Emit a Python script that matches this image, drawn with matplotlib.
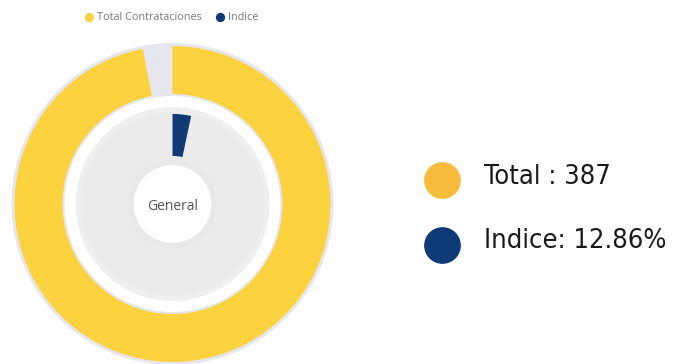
import matplotlib
matplotlib.use("Agg")
import matplotlib.pyplot as plt

# ---- data ----
series_names = ["Total Contrataciones", "Indice"]
total_value = 387
total_remainder = 12          # small unfilled part of the outer ring
indice_value = 12.86          # inner ring filled share (of total)
indice_label = "12.86%"
center_label = "General"
series_colors = ["#fdd23f", "#123a75"]
summary_colors = ["#f8bb3a", "#0e3a78"]

W, H = 676, 364
fig = plt.figure(figsize=(W / 100, H / 100), dpi=100)
fig.patch.set_facecolor("white")

# ---- donut axes (pixel-sized units) ----
cx, cy, half = 172.5, 204, 170
dax = fig.add_axes([(cx - half) / W, (H - cy - half) / H, 2 * half / W, 2 * half / H])

# outer track
dax.pie([1], radius=161, colors=["#e6e6ee"], startangle=90, counterclock=False,
        wedgeprops=dict(width=53, linewidth=0))
# outer ring: total
dax.pie([total_value, total_remainder], radius=158, colors=[series_colors[0], "none"],
        startangle=90, counterclock=False, wedgeprops=dict(width=48, linewidth=0))
# inner track (soft shading)
dax.pie([1], radius=97, colors=["#efefef"], startangle=90, counterclock=False,
        wedgeprops=dict(width=58, linewidth=0))
dax.pie([1], radius=92, colors=["#ebebeb"], startangle=90, counterclock=False,
        wedgeprops=dict(width=48, linewidth=0))
dax.pie([1], radius=44, colors=["#e8e8e8"], startangle=90, counterclock=False,
        wedgeprops=dict(width=5, linewidth=0))
# inner ring: indice
dax.pie([indice_value, total_value - indice_value], radius=90,
        colors=[series_colors[1], "none"], startangle=90, counterclock=False,
        wedgeprops=dict(width=42, linewidth=0))
dax.set_xlim(-half, half)
dax.set_ylim(-half, half)
dax.set_aspect("equal")
dax.axis("off")
dax.text(0, -2, center_label, ha="center", va="center", fontsize=10,
         color="#555555", family="Open Sans")

# ---- overlay axes for legends / labels (pixel coords) ----
ax = fig.add_axes([0, 0, 1, 1], facecolor="none")
ax.set_xlim(0, W)
ax.set_ylim(H, 0)
ax.axis("off")

# top legend
legend_x = [89, 220]
text_x = [97, 228]
for name, col, lx, tx in zip(series_names, series_colors, legend_x, text_x):
    ax.scatter([lx], [17], s=45, color=col, linewidths=0)
    ax.text(tx, 17.5, name, ha="left", va="center", fontsize=7.8,
            color="#777777", family="Open Sans")

# summary on the right
summary_texts = [f"Total : {total_value}", f"Indice: {indice_label}"]
summary_y = [180, 245]
for txt, col, yy in zip(summary_texts, summary_colors, summary_y):
    ax.scatter([442], [yy], s=700, color=col, linewidths=0)
    ax.text(484, yy - 3.5, txt, ha="left", va="center", fontsize=19.5,
            color="#1a1a1a", family="DejaVu Sans", stretch="condensed")

fig.savefig("out.png", dpi=100, facecolor="white")
